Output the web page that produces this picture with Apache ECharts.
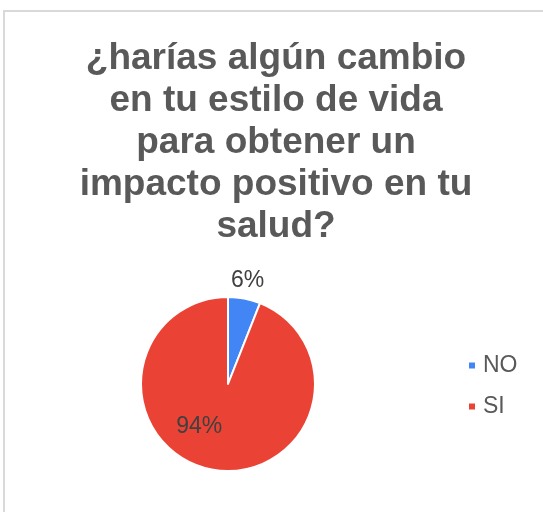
<!DOCTYPE html>
<html>
<head>
<meta charset="utf-8">
<script src="https://cdn.jsdelivr.net/npm/echarts@6/dist/echarts.min.js"></script>
<style>
html,body{margin:0;padding:0;background:#fff;}
#chart{width:543px;height:512px;}
</style>
</head>
<body>
<div id="chart"></div>
<script>
const titleText = "¿harías algún cambio\nen tu estilo de vida\npara obtener un\nimpacto positivo en tu\nsalud?";
const categories = ["NO", "SI"];
const values = [6, 94];
const colors = ["#4285F4", "#EA4335"];

const chart = echarts.init(document.getElementById('chart'));
const data = categories.map((c, i) => ({
  name: c,
  value: values[i],
  itemStyle: { color: colors[i] },
  label: i === 0
    ? { position: 'outside' }
    : { position: 'inside' },
  labelLine: { show: false }
}));

chart.setOption({
  backgroundColor: '#fff',
  animation: false,
  graphic: [{
    type: 'rect',
    shape: { x: 4, y: 11, width: 700, height: 700 },
    style: { fill: 'none', stroke: '#d9d9d9', lineWidth: 2 },
    silent: true
  }],
  title: {
    text: titleText,
    left: 271,
    textAlign: 'center',
    top: 33,
    textStyle: {
      fontFamily: 'Liberation Sans',
      fontWeight: 'bold',
      fontSize: 37,
      lineHeight: 42,
      color: '#595959'
    }
  },
  legend: {
    orient: 'vertical',
    left: 462,
    top: 349,
    icon: 'rect',
    itemWidth: 8,
    itemHeight: 8,
    itemGap: 18,
    data: categories,
    textStyle: {
      fontFamily: 'Liberation Sans',
      fontSize: 23,
      color: '#595959',
      padding: [0, 0, 0, 2]
    }
  },
  series: [{
    type: 'pie',
    center: [228, 384],
    radius: 87,
    startAngle: 90,
    clockwise: true,
    avoidLabelOverlap: false,
    itemStyle: { borderColor: '#fff', borderWidth: 2 },
    label: {
      formatter: '{d}%',
      fontFamily: 'Liberation Sans',
      fontSize: 23,
      color: '#404040'
    },
    labelLine: { show: false, length: 18, length2: 0 },
    labelLayout: function (p) {
      if (p.dataIndex === 0) return { align: 'center', verticalAlign: 'middle', dx: -5, dy: 0 };
      return { dx: -20, dy: -3 };
    },
    data: data
  }]
});
</script>
</body>
</html>
